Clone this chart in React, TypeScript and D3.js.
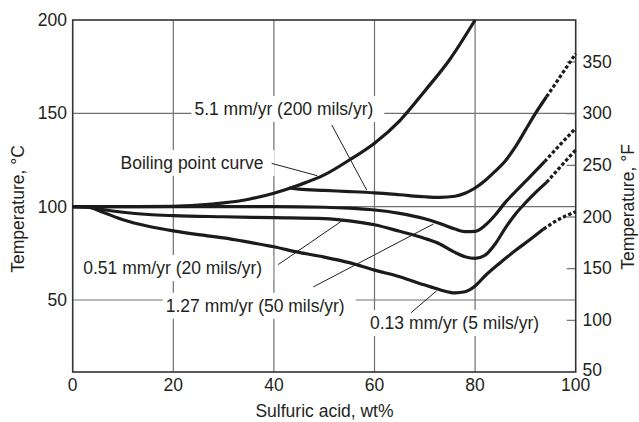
import React, { useEffect, useRef } from 'react';
import * as d3 from 'd3';

type P = [number, number];

const xTicks = [0, 20, 40, 60, 80, 100];
const yTicksC = [50, 100, 150, 200];
const gridX = [20, 40, 60, 80];
const gridY = [50, 100, 150];
const yTicksF = [50, 100, 150, 200, 250, 300, 350];

const boilingCurve: P[] = [
  [0, 100], [10, 100], [20, 100.2], [25, 100.8], [30, 102], [35, 104], [40, 107.2],
  [45, 111.6], [50, 117], [55, 125], [60, 134], [65, 146], [70, 162], [75, 179], [80, 200],
];

const rate51Solid: P[] = [
  [43, 110], [45, 109.4], [50, 108.7], [55, 108.1], [60, 107.4], [65, 106.4], [70, 105.3],
  [73, 105], [76, 105.6], [78, 107.2], [80, 110], [82, 114], [84, 119], [86, 124.5],
  [88, 132], [90, 141], [92, 150], [94.2, 158.9],
];
const rate51Dash: P[] = [[94.2, 158.9], [97, 170], [100, 182]];

const rate127Solid: P[] = [
  [0, 100], [10, 100], [20, 100], [30, 100], [40, 100], [50, 99.7], [55, 99.2], [60, 98.2],
  [65, 96.4], [70, 93.5], [73, 91], [76, 88], [78, 86.6], [80, 86.8], [82, 90], [84, 95.5],
  [86, 102.3], [88, 108], [90, 113.5], [92, 119], [93.8, 124.1],
];
const rate127Dash: P[] = [[93.8, 124.1], [97, 133.5], [100, 142]];

const rate051Solid: P[] = [
  [0, 100], [3, 99.8], [6, 98.5], [10, 97], [15, 95.8], [20, 95.2], [30, 94.6], [40, 94.1],
  [50, 93.6], [55, 92.4], [60, 90.3], [65, 86.8], [70, 83], [73, 80], [76, 75.5], [78, 73.2],
  [80, 72.3], [82, 74], [84, 80], [86, 88.5], [88, 96], [90, 102], [92, 107.5], [94.2, 113],
];
const rate051Dash: P[] = [[94.2, 113], [97, 121.5], [100, 130.4]];

const rate013Solid: P[] = [
  [0, 100], [3, 99.8], [6, 97], [10, 93], [15, 89.5], [20, 87], [25, 85], [30, 83.3],
  [35, 81], [40, 78.5], [45, 75.5], [50, 73], [55, 70], [60, 66], [65, 62.5], [70, 58],
  [73, 55.5], [76, 53.8], [78, 54.4], [80, 57.5], [82, 63], [85, 70], [88, 76.5],
  [91, 82.5], [93.6, 88],
];
const rate013Dash: P[] = [[93.6, 88], [96, 92.2], [98, 95], [100, 97.3]];

const labelTexts = [
  '5.1 mm/yr (200 mils/yr)',
  'Boiling point curve',
  '0.51 mm/yr (20 mils/yr)',
  '1.27 mm/yr (50 mils/yr)',
  '0.13 mm/yr (5 mils/yr)',
];
// label anchor (data coords, start / baseline)
const labelAnchors: P[] = [[24.2, 149.1], [9.5, 120.2], [2.1, 63.9], [18.5, 43.7], [59.1, 34.5]];
// leader lines (data coords)
const leaderLines: [P, P][] = [
  [[51.5, 143.8], [58.45, 108.9]],
  [[39.56, 123.2], [48.6, 116.6]],
  [[40.87, 69.0], [53.48, 92.3]],
  [[47.83, 57.0], [71.69, 90.7]],
  [[67.26, 43.2], [72.37, 55.0]],
];

const W = 639;
const H = 422;
const FONT = '"Liberation Sans", Arial, Helvetica, sans-serif';

export default function App() {
  const ref = useRef<SVGSVGElement | null>(null);

  useEffect(() => {
    const svg = d3.select(ref.current);
    svg.selectAll('*').remove();

    const left = 72.7, right = 575.7, top = 20, bottom = 372;
    const x = d3.scaleLinear().domain([0, 100]).range([left, right]);
    const y = d3.scaleLinear().domain([11.43, 200]).range([bottom, top]);
    const yF = d3.scaleLinear().domain([50, 350]).range([372, 62]);

    const gridColor = '#707070';
    const g = svg.append('g');

    // gridlines
    g.selectAll('line.gx').data(gridX).enter().append('line')
      .attr('x1', (d) => x(d)).attr('x2', (d) => x(d))
      .attr('y1', top).attr('y2', bottom)
      .attr('stroke', gridColor).attr('stroke-width', 1.2);
    g.selectAll('line.gy').data(gridY).enter().append('line')
      .attr('x1', left).attr('x2', right)
      .attr('y1', (d) => y(d)).attr('y2', (d) => y(d))
      .attr('stroke', gridColor).attr('stroke-width', 1.2);

    // right axis inward ticks
    g.selectAll('line.tf').data(yTicksF.filter((d) => d > 50)).enter().append('line')
      .attr('x1', right - 9).attr('x2', right)
      .attr('y1', (d) => yF(d)).attr('y2', (d) => yF(d))
      .attr('stroke', gridColor).attr('stroke-width', 1.2);

    // label boxes + texts (boxes first)
    const boxLayer = svg.append('g');
    const curveLayer = svg.append('g');
    const textLayer = svg.append('g');

    const texts = textLayer.selectAll('text.lab').data(labelTexts).enter().append('text')
      .attr('x', (_d, i) => x(labelAnchors[i][0]))
      .attr('y', (_d, i) => y(labelAnchors[i][1]))
      .attr('font-family', FONT).attr('font-size', 17.5).attr('fill', '#231f20')
      .text((d) => d);

    texts.each(function () {
      const bb = (this as SVGTextElement).getBBox();
      boxLayer.append('rect')
        .attr('x', bb.x - 3).attr('y', bb.y - 3)
        .attr('width', bb.width + 14).attr('height', bb.height + 6)
        .attr('fill', '#fff');
    });

    // frame
    curveLayer.append('rect')
      .attr('x', left).attr('y', top).attr('width', right - left).attr('height', bottom - top)
      .attr('fill', 'none').attr('stroke', '#333').attr('stroke-width', 1.6);

    const line = d3.line<P>().x((d) => x(d[0])).y((d) => y(d[1])).curve(d3.curveMonotoneX);

    const solids = [boilingCurve, rate51Solid, rate127Solid, rate051Solid, rate013Solid];
    const dashes = [rate51Dash, rate127Dash, rate051Dash, rate013Dash];

    curveLayer.selectAll('path.s').data(solids).enter().append('path')
      .attr('d', (d) => line(d) as string)
      .attr('fill', 'none').attr('stroke', '#1c1a1b').attr('stroke-width', 3.2)
      .attr('stroke-linecap', 'butt').attr('stroke-linejoin', 'round');
    curveLayer.selectAll('path.d').data(dashes).enter().append('path')
      .attr('d', (d) => line(d) as string)
      .attr('fill', 'none').attr('stroke', '#1c1a1b').attr('stroke-width', 3.2)
      .attr('stroke-dasharray', '3.5,2.2');

    // leader lines
    curveLayer.selectAll('line.ld').data(leaderLines).enter().append('line')
      .attr('x1', (d) => x(d[0][0])).attr('y1', (d) => y(d[0][1]))
      .attr('x2', (d) => x(d[1][0])).attr('y2', (d) => y(d[1][1]))
      .attr('stroke', '#231f20').attr('stroke-width', 1);

    // tick labels
    const tl = svg.append('g').attr('font-family', FONT).attr('font-size', 17.5).attr('fill', '#231f20');
    tl.selectAll('text.xt').data(xTicks).enter().append('text')
      .attr('x', (d) => x(d)).attr('y', 391).attr('text-anchor', 'middle').text((d) => d);
    tl.selectAll('text.yt').data(yTicksC).enter().append('text')
      .attr('x', 67).attr('y', (d) => y(d) + 6).attr('text-anchor', 'end').text((d) => d);
    tl.selectAll('text.yf').data(yTicksF).enter().append('text')
      .attr('x', 582.5).attr('y', (d) => yF(d) + (d === 50 ? 4 : 5.5)).attr('text-anchor', 'start').text((d) => d);

    // axis titles
    tl.append('text').attr('x', 324.5).attr('y', 417).attr('text-anchor', 'middle')
      .text('Sulfuric acid, wt%');
    tl.append('text').attr('transform', 'translate(24,209) rotate(-90)').attr('text-anchor', 'middle')
      .text('Temperature, °C');
    tl.append('text').attr('transform', 'translate(634,207) rotate(-90)').attr('text-anchor', 'middle')
      .text('Temperature, °F');
  }, []);

  return (
    <svg
      ref={ref}
      width={W}
      height={H}
      style={{ position: 'absolute', left: 0, top: 0, background: '#fff' }}
    />
  );
}
